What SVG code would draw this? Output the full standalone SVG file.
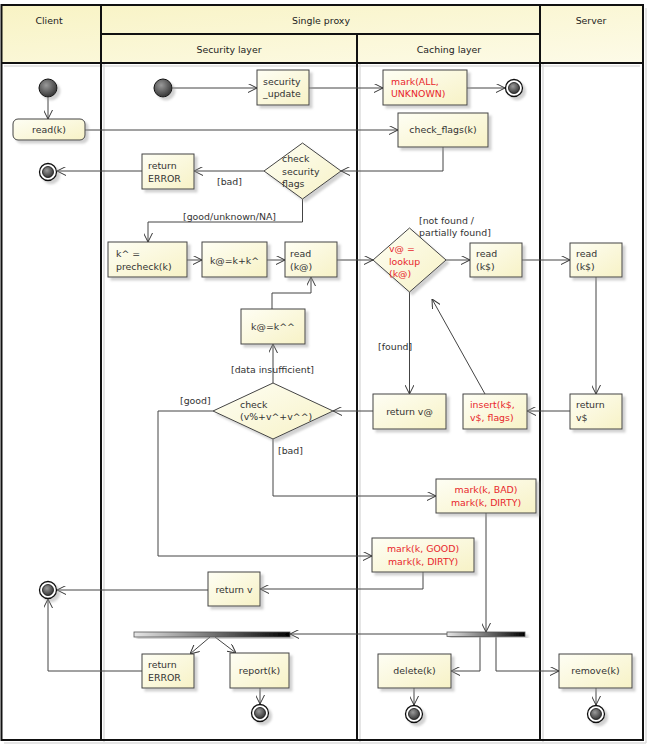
<svg xmlns="http://www.w3.org/2000/svg" width="650" height="744" viewBox="0 0 650 744">
<defs>
<linearGradient id="hdr" x1="0" y1="0" x2="1" y2="1">
<stop offset="0" stop-color="#f8f3c4"/><stop offset="1" stop-color="#fdfbe8"/>
</linearGradient>
<linearGradient id="ng" x1="0" y1="0" x2="1" y2="1">
<stop offset="0" stop-color="#fefef4"/><stop offset="1" stop-color="#f7f2c6"/>
</linearGradient>
<radialGradient id="ball" cx="0.4" cy="0.35" r="0.7">
<stop offset="0" stop-color="#9a9a9a"/><stop offset="1" stop-color="#2f2f2f"/>
</radialGradient>
<linearGradient id="bar" x1="0" y1="0" x2="1" y2="0">
<stop offset="0" stop-color="#e6e6e6"/><stop offset="1" stop-color="#000"/>
</linearGradient>
<filter id="sh" x="-20%" y="-20%" width="150%" height="150%">
<feDropShadow dx="3" dy="3" stdDeviation="1.2" flood-color="#999" flood-opacity="0.45"/>
</filter>
<marker id="ar" viewBox="0 0 10 10" refX="10" refY="5" markerWidth="9" markerHeight="9" markerUnits="userSpaceOnUse" orient="auto">
<path d="M0,0 L10,5 L0,10" fill="none" stroke="#333" stroke-width="1.1"/>
</marker>
</defs>
<style>
text{font-family:"DejaVu Sans","Liberation Sans",sans-serif;font-size:9.4px;fill:#333}
.h{font-size:9.4px;fill:#222}
.r{fill:#e8262b}
.m{text-anchor:middle}
.box{fill:url(#ng);stroke:#444;stroke-width:1;filter:url(#sh)}
.dia{fill:url(#ng);stroke:#444;stroke-width:1;filter:url(#sh)}
.lane{stroke:#111;stroke-width:2;fill:none}
.lsh{stroke:#ddd;stroke-width:1.5;fill:none}
.c{fill:none;stroke:#444;stroke-width:1;marker-end:url(#ar)}
.cn{fill:none;stroke:#444;stroke-width:1}
.init{fill:url(#ball);stroke:#111;stroke-width:1;filter:url(#sh)}
.fo{fill:#fff;stroke:#111;stroke-width:1.3;filter:url(#sh)}
.fi{fill:url(#ball);stroke:#111;stroke-width:0.8}
.bar{fill:url(#bar);stroke:#555;stroke-width:0.8;filter:url(#sh)}
</style>
<rect width="650" height="744" fill="#fff"/>
<g id="swimlanes">
<rect x="1.5" y="5" width="641.5" height="58" fill="url(#hdr)"/>
<rect x="1.5" y="5" width="641.5" height="735" fill="none" stroke="none"/>
<path class="lsh" d="M104,64 V742 M360,64 V742 M543,64 V742 M646,8 V743 M4,743 H646 M4,66 H640"/>
<path class="lane" d="M1.5,5 H643 V740 H1.5 Z M101,5 V740 M540,5 V740 M357,34 V740 M101,34 H540 M1.5,63 H643"/>
<text class="h m" x="49" y="24">Client</text>
<text class="h m" x="321" y="24">Single proxy</text>
<text class="h m" x="591" y="24">Server</text>
<text class="h m" x="229" y="53">Security layer</text>
<text class="h m" x="449" y="53">Caching layer</text>
</g>
<g id="connectors">
<path class="c" d="M48,97 L48,119"/>
<path class="c" d="M172,88 L257,88"/>
<path class="c" d="M309,88 L383,88"/>
<path class="c" d="M467,88 L505,88"/>
<path class="c" d="M85,130 L398,130"/>
<path class="c" d="M443,147 L443,171 L341,171"/>
<path class="c" d="M264,171 L194,171"/>
<path class="c" d="M142,171 L57,171"/>
<path class="c" d="M302.5,199 L302.5,222 L148,222 L148,242"/>
<path class="c" d="M187,260 L202,260"/>
<path class="c" d="M267,260 L285,260"/>
<path class="c" d="M337,260 L373,260"/>
<path class="c" d="M446,260 L470,260"/>
<path class="c" d="M522,260 L570,260"/>
<path class="c" d="M596,277 L596,394"/>
<path class="c" d="M570,411 L527,411"/>
<path class="c" d="M485,394 L432,299"/>
<path class="c" d="M409.5,292 L409.5,394"/>
<path class="c" d="M373,411 L333,411"/>
<path class="c" d="M273,383 L273,344"/>
<path class="c" d="M272,309 L272,293 L311,293 L311,277"/>
<path class="c" d="M213,411 L158,411 L158,556 L372,556"/>
<path class="c" d="M273,439 L273,496 L436,496"/>
<path class="c" d="M423,572 L423,589 L260,589"/>
<path class="c" d="M208,590 L57,590"/>
<path class="c" d="M486,513 L486,632"/>
<path class="c" d="M447,634 L290,634"/>
<path class="c" d="M210,637 L190,654"/>
<path class="c" d="M215,637 L236,653"/>
<path class="c" d="M142,671 L48,671 L48,599"/>
<path class="c" d="M260,688 L260,704"/>
<path class="c" d="M480,636 L480,671 L451,671"/>
<path class="c" d="M496,636 L496,671 L559,671"/>
<path class="c" d="M414,688 L414,705"/>
<path class="c" d="M596,688 L596,705"/>
<text x="217" y="185">[bad]</text>
<text x="183" y="220">[good/unknown/NA]</text>
<text x="419" y="224">[not found /</text>
<text x="419" y="236">partially found]</text>
<text x="378" y="350">[found]</text>
<text x="231" y="373">[data insufficient]</text>
<text x="180" y="404">[good]</text>
<text x="278" y="454">[bad]</text>
</g>
<g id="client-start"><circle class="init" cx="48" cy="88" r="9"/></g>
<g id="read-k"><rect class="box" x="13" y="119" width="72" height="21" rx="5" stroke-width="2"/><text class="m" x="49" y="133">read(k)</text></g>
<g id="client-end-error"><circle class="fo" cx="48" cy="172" r="8.5"/><circle class="fi" cx="48" cy="172" r="5.5"/></g>
<g id="sec-start"><circle class="init" cx="163" cy="88" r="9"/></g>
<g id="security-update"><rect class="box" x="257" y="70" width="52" height="35"/><text x="263" y="85">security</text><text x="263" y="97">_update</text></g>
<g id="mark-all"><rect class="box" x="383" y="70" width="84" height="35"/><text class="r" x="391" y="85">mark(ALL,</text><text class="r" x="391" y="97">UNKNOWN)</text></g>
<g id="cache-end-1"><circle class="fo" cx="514" cy="88" r="8.5"/><circle class="fi" cx="514" cy="88" r="5.5"/></g>
<g id="check-flags"><rect class="box" x="398" y="113" width="90" height="34"/><text class="m" x="443" y="133">check_flags(k)</text></g>
<g id="check-security-flags"><polygon class="dia" points="302.5,143 341,171 302.5,199 264,171"/><text x="282" y="162">check</text><text x="282" y="175">security</text><text x="282" y="187">flags</text></g>
<g id="return-error-1"><rect class="box" x="142" y="154" width="52" height="35"/><text x="148" y="169">return</text><text x="148" y="182">ERROR</text></g>
<g id="precheck"><rect class="box" x="108" y="242" width="79" height="35"/><text x="116" y="257">k^ =</text><text x="116" y="270">precheck(k)</text></g>
<g id="k-at-plus"><rect class="box" x="202" y="242" width="65" height="35"/><text class="m" x="234.5" y="264">k@=k+k^</text></g>
<g id="read-k-at"><rect class="box" x="285" y="242" width="52" height="35"/><text x="290" y="257">read</text><text x="290" y="270">(k@)</text></g>
<g id="lookup"><polygon class="dia" points="409.5,228 446,260 409.5,292 373,260"/><text class="r" x="389" y="252">v@ =</text><text class="r" x="389" y="265">lookup</text><text class="r" x="389" y="277">(k@)</text></g>
<g id="read-k-cache"><rect class="box" x="470" y="243" width="52" height="34"/><text x="476" y="257">read</text><text x="476" y="270">(k$)</text></g>
<g id="read-k-server"><rect class="box" x="570" y="243" width="52" height="34"/><text x="576" y="257">read</text><text x="576" y="270">(k$)</text></g>
<g id="k-at-hh"><rect class="box" x="241" y="309" width="64" height="35"/><text class="m" x="273" y="330">k@=k^^</text></g>
<g id="check-values"><polygon class="dia" points="273,383 333,411 273,439 213,411"/><text x="240" y="408">check</text><text x="240" y="420">(v%+v^+v^^)</text></g>
<g id="return-v-at"><rect class="box" x="373" y="394" width="73" height="35"/><text class="m" x="409.5" y="415">return v@</text></g>
<g id="insert"><rect class="box" x="463" y="394" width="64" height="35"/><text class="r" x="470" y="408">insert(k$,</text><text class="r" x="470" y="421">v$, flags)</text></g>
<g id="return-v-dollar"><rect class="box" x="570" y="394" width="52" height="35"/><text x="576" y="408">return</text><text x="576" y="421">v$</text></g>
<g id="mark-bad"><rect class="box" x="436" y="479" width="100" height="34"/><text class="r m" x="486" y="493">mark(k, BAD)</text><text class="r m" x="486" y="506">mark(k, DIRTY)</text></g>
<g id="mark-good"><rect class="box" x="372" y="538" width="102" height="34"/><text class="r m" x="423" y="552">mark(k, GOOD)</text><text class="r m" x="423" y="565">mark(k, DIRTY)</text></g>
<g id="return-v"><rect class="box" x="208" y="572" width="52" height="34"/><text class="m" x="234" y="593">return v</text></g>
<g id="client-end-ok"><circle class="fo" cx="48" cy="590" r="8.5"/><circle class="fi" cx="48" cy="590" r="5.5"/></g>
<g id="fork-security"><rect class="bar" x="134" y="632" width="156" height="5"/></g>
<g id="fork-cache"><rect class="bar" x="447" y="632" width="78" height="4.5"/></g>
<g id="return-error-2"><rect class="box" x="142" y="654" width="52" height="34"/><text x="148" y="668">return</text><text x="148" y="681">ERROR</text></g>
<g id="report"><rect class="box" x="230" y="653" width="59" height="35"/><text class="m" x="259.5" y="674">report(k)</text></g>
<g id="report-end"><circle class="fo" cx="260" cy="713" r="8.5"/><circle class="fi" cx="260" cy="713" r="5.5"/></g>
<g id="delete"><rect class="box" x="378" y="654" width="73" height="34"/><text class="m" x="414.5" y="674">delete(k)</text></g>
<g id="delete-end"><circle class="fo" cx="414" cy="714" r="8.5"/><circle class="fi" cx="414" cy="714" r="5.5"/></g>
<g id="remove"><rect class="box" x="559" y="654" width="73" height="34"/><text class="m" x="595.5" y="674">remove(k)</text></g>
<g id="remove-end"><circle class="fo" cx="596" cy="714" r="8.5"/><circle class="fi" cx="596" cy="714" r="5.5"/></g>
</svg>
